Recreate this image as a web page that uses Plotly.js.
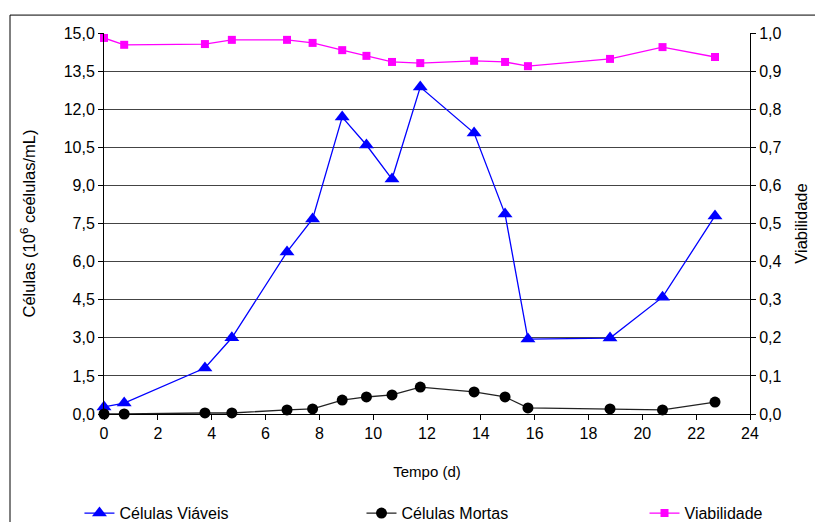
<!DOCTYPE html>
<html>
<head>
<meta charset="utf-8">
<script src="https://cdn.plot.ly/plotly-3.0.1.min.js"></script>
<style>html,body{margin:0;padding:0;background:#fff;}#chart{width:815px;height:522px;}</style>
</head>
<body>
<div id="chart"></div>
<script>
const tempo = [0, 0.75, 3.75, 4.75, 6.8, 7.75, 8.85, 9.75, 10.7, 11.75, 13.75, 14.9, 15.75, 18.8, 20.75, 22.7];
const celulasViaveis = [0.28, 0.43, 1.81, 3.0, 6.38, 7.68, 11.69, 10.59, 9.25, 12.87, 11.06, 7.87, 2.95, 2.99, 4.6, 7.8];
const celulasMortas = [0, 0, 0.04, 0.04, 0.16, 0.2, 0.55, 0.67, 0.75, 1.06, 0.87, 0.67, 0.24, 0.2, 0.16, 0.47];
const viabilidade = [0.987, 0.969, 0.971, 0.982, 0.982, 0.974, 0.955, 0.94, 0.924, 0.921, 0.927, 0.924, 0.913, 0.932, 0.963, 0.937];
const seriesNames = ["Células Viáveis", "Células Mortas", "Viabilidade"];

const FAM = "Liberation Sans, Arial, sans-serif";
const tickFont = {family: FAM, size: 16, color: "#000"};
const titleFont = {family: FAM, size: 15, color: "#000"};
const vTitleFont = {family: FAM, size: 16.5, color: "#000"};
const legFont = {family: FAM, size: 16, color: "#000"};

const traces = [
  {x: tempo, y: celulasViaveis, name: seriesNames[0], type: "scatter", mode: "lines+markers", legend: "legend",
   line: {color: "#0000FF", width: 1.3}, marker: {symbol: "triangle-up", size: 13, color: "#0000FF"}, cliponaxis: false},
  {x: tempo, y: celulasMortas, name: seriesNames[1], type: "scatter", mode: "lines+markers", legend: "legend2",
   line: {color: "#222222", width: 1.3}, marker: {symbol: "circle", size: 11, color: "#000000"}, cliponaxis: false},
  {x: tempo, y: viabilidade, name: seriesNames[2], type: "scatter", mode: "lines+markers", yaxis: "y2", legend: "legend3",
   line: {color: "#FF00FF", width: 1.3}, marker: {symbol: "square", size: 8, color: "#FF00FF"}, cliponaxis: false}
];

function leg(x) {
  return {orientation: "h", x: x, xref: "paper", xanchor: "left", y: 0.017, yref: "container", yanchor: "middle",
          font: legFont, bgcolor: "rgba(0,0,0,0)", borderwidth: 0};
}

const layout = {
  width: 815, height: 522,
  margin: {l: 104, r: 65, t: 33, b: 108, autoexpand: false},
  paper_bgcolor: "#fff", plot_bgcolor: "#fff",
  separators: ",.",
  font: tickFont,
  showlegend: true,
  legend: leg(-0.038),
  legend2: leg(0.3986),
  legend3: leg(0.8367),
  xaxis: {range: [0, 24], dtick: 2, tick0: 0, showgrid: false, zeroline: false,
          showline: true, linecolor: "#000", linewidth: 1, ticks: "outside", ticklen: 5, tickcolor: "#000",
          tickfont: tickFont, title: {text: "Tempo (d)", font: titleFont, standoff: 25}},
  yaxis: {range: [0, 15], dtick: 1.5, tick0: 0, tickformat: ".1f", showgrid: true, gridcolor: "#444", gridwidth: 1,
          zeroline: false, showline: true, linecolor: "#000", linewidth: 1, ticks: "outside", ticklen: 5, tickcolor: "#000",
          tickfont: tickFont, title: {text: "Células (10<sup>6</sup> ceélulas/mL)", font: vTitleFont, standoff: 23}},
  yaxis2: {range: [0, 1], dtick: 0.1, tick0: 0, tickformat: ".1f", overlaying: "y", side: "right", showgrid: false,
           zeroline: false, showline: true, linecolor: "#000", linewidth: 1, ticks: "outside", ticklen: 5, tickcolor: "#000",
           tickfont: tickFont, title: {text: "Viabilidade", font: vTitleFont, standoff: 14}},
  shapes: [
    {type: "rect", xref: "paper", yref: "paper", x0: -0.1455, x1: 1.2, y0: -0.5, y1: 1.047,
     line: {color: "#000", width: 1}, fillcolor: "rgba(0,0,0,0)", layer: "below"}
  ]
};

Plotly.newPlot("chart", traces, layout, {staticPlot: true, displayModeBar: false});
</script>
</body>
</html>
